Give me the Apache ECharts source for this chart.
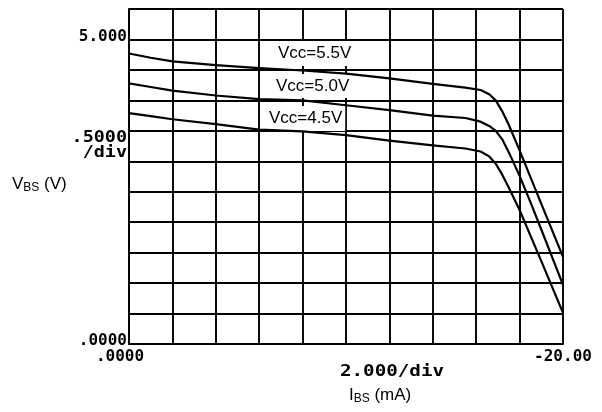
<!DOCTYPE html>
<html>
<head>
<meta charset="utf-8">
<script src="https://cdn.jsdelivr.net/npm/echarts@6/dist/echarts.min.js"></script>
<style>html,body{margin:0;padding:0;background:#fff;}#c{width:602px;height:412px;}</style>
</head>
<body>
<div id="c"></div>
<script>
// I_BS (mA) and V_BS (V)
const ibs55 = [0, -1, -2, -4, -6, -8, -10, -12, -14, -15.5, -16.2, -16.6, -16.9, -17.2, -17.5, -18, -18.5, -19, -20];
const vbs55 = [4.77, 4.70, 4.64, 4.58, 4.53, 4.49, 4.44, 4.36, 4.27, 4.21, 4.17, 4.10, 4.00, 3.82, 3.60, 3.18, 2.74, 2.30, 1.43];
const ibs50 = [0, -1, -2, -4, -6, -8, -10, -12, -14, -15.5, -16.2, -16.6, -16.9, -17.2, -17.5, -18, -18.5, -19, -20];
const vbs50 = [4.28, 4.22, 4.16, 4.08, 4.02, 4.00, 3.92, 3.84, 3.75, 3.71, 3.65, 3.58, 3.50, 3.36, 3.15, 2.76, 2.33, 1.88, 0.97];
const ibs45 = [0, -1, -2, -4, -6, -8, -10, -12, -14, -15.5, -16.2, -16.6, -16.9, -17.2, -17.5, -18, -18.5, -19, -20];
const vbs45 = [3.79, 3.74, 3.69, 3.61, 3.52, 3.49, 3.43, 3.34, 3.26, 3.21, 3.16, 3.08, 2.96, 2.78, 2.57, 2.20, 1.78, 1.36, 0.51];
const seriesNames = ['Vcc=5.5V', 'Vcc=5.0V', 'Vcc=4.5V'];
const xTickLabels = {'0': '.0000', '-20': '-20.00'};
const yTickLabels = {'0': '.0000', '5': '5.000'};

const zip = (xs, ys) => xs.map((x, i) => [x, ys[i]]);
const plotFont = '"DejaVu Sans Mono"';
const textFont = '"Liberation Sans", Arial, sans-serif';

const chart = echarts.init(document.getElementById('c'));
const lineStyle = {color: '#000', width: 2.2, join: 'round'};
const mkSeries = (name, xs, ys) => ({
  name: name, type: 'line', data: zip(xs, ys), smooth: false,
  showSymbol: false, lineStyle: lineStyle, z: 3
});
chart.setOption({
  animation: false,
  backgroundColor: '#fff',
  grid: {left: 129, right: 39, top: 9, bottom: 68},
  xAxis: {
    type: 'value', min: -20, max: 0, interval: 2, inverse: true,
    axisLine: {show: true, onZero: false, lineStyle: {color: '#000', width: 2}},
    axisTick: {show: false},
    splitLine: {show: true, lineStyle: {color: '#000', width: 1.9}},
    axisLabel: {
      show: true, margin: 5, fontFamily: plotFont, fontWeight: 'bold', fontSize: 16, color: '#000',
      showMinLabel: true, showMaxLabel: true,
      formatter: v => v === 0 ? '{a|' + xTickLabels['0'] + '}' : (xTickLabels[String(v)] || ''),
      rich: {a: {fontFamily: plotFont, fontWeight: 'bold', fontSize: 16, color: '#000', padding: [0, 18, 0, 0]}}
    }
  },
  yAxis: {
    type: 'value', min: 0, max: 5.5, interval: 0.5,
    axisLine: {show: true, onZero: false, lineStyle: {color: '#000', width: 2}},
    axisTick: {show: false},
    splitLine: {show: true, lineStyle: {color: '#000', width: 1.9}},
    axisLabel: {
      show: true, margin: 2, fontFamily: plotFont, fontWeight: 'bold', fontSize: 16, color: '#000',
      showMinLabel: true, showMaxLabel: true,
      formatter: v => {
        const k = String(Math.round(v * 10) / 10);
        return yTickLabels[k] ? '{a|' + yTickLabels[k] + '}' : '';
      },
      rich: {a: {fontFamily: plotFont, fontWeight: 'bold', fontSize: 16, color: '#000', padding: [0, 0, 6, 0]}}
    }
  },
  series: [
    mkSeries(seriesNames[0], ibs55, vbs55),
    mkSeries(seriesNames[1], ibs50, vbs50),
    mkSeries(seriesNames[2], ibs45, vbs45)
  ],
  graphic: [
    {type: 'text', z: 1, left: 275, top: 41, style: {text: seriesNames[0], font: '17px ' + textFont, fill: '#000', backgroundColor: '#fff', padding: [4, 3, 4, 3]}},
    {type: 'text', z: 1, left: 273, top: 74, style: {text: seriesNames[1], font: '17px ' + textFont, fill: '#000', backgroundColor: '#fff', padding: [4, 3, 3, 3]}},
    {type: 'text', z: 1, left: 266, top: 106, style: {text: seriesNames[2], font: '17px ' + textFont, fill: '#000', backgroundColor: '#fff', padding: [4, 3, 4, 3]}},
    {type: 'text', z: 10, x: 127, y: 130, scaleX: 1.15, style: {text: '.5000', font: 'bold 16px ' + plotFont, fill: '#000', align: 'right'}},
    {type: 'text', z: 10, x: 127, y: 145, scaleX: 1.15, style: {text: '/div', font: 'bold 16px ' + plotFont, fill: '#000', align: 'right'}},
    {type: 'text', z: 10, left: 12, top: 176, style: {
      text: '{v|V}{s|BS}{v| (V)}',
      rich: {v: {fontFamily: textFont, fontSize: 17, color: '#000'}, s: {fontFamily: textFont, fontSize: 12, color: '#000', padding: [6, 0, 0, 0]}}
    }},
    {type: 'text', z: 10, x: 340, y: 364, scaleX: 1.2, style: {text: '2.000/div', font: 'bold 16px ' + plotFont, fill: '#000'}},
    {type: 'text', z: 10, left: 349, top: 387, style: {
      text: '{v|I}{s|BS}{v| (mA)}',
      rich: {v: {fontFamily: textFont, fontSize: 17, color: '#000'}, s: {fontFamily: textFont, fontSize: 12, color: '#000', padding: [6, 0, 0, 0]}}
    }}
  ]
});
</script>
</body>
</html>
